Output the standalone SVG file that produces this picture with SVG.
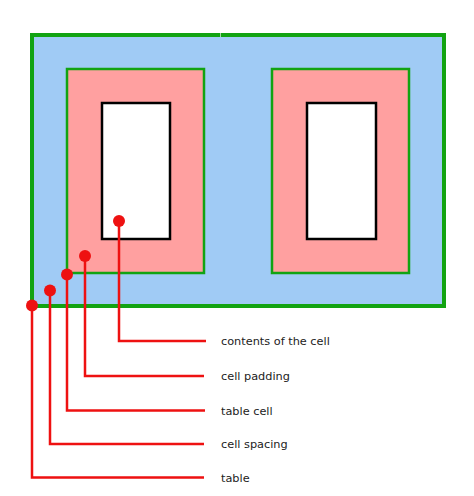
<svg xmlns="http://www.w3.org/2000/svg" width="474" height="496" viewBox="0 0 474 496">
<style>
.table{fill:#a0cbf5;stroke:#12a312;stroke-width:4}
.cell{fill:#ffa0a0;stroke:#12a312;stroke-width:2.5}
.content{fill:#ffffff;stroke:#000000;stroke-width:2.5}
.lead{fill:none;stroke:#ee1111;stroke-width:2.5}
.dot{fill:#ee1111}
.label{font-family:"DejaVu Sans",Verdana,sans-serif;font-size:11.3px;fill:#222222}
</style>
<rect width="474" height="496" fill="#ffffff"/>
<g id="table">
<rect class="table" x="32" y="35" width="412" height="271"/>
<line x1="220.5" y1="33" x2="220.5" y2="37" stroke="#a0d8a0" stroke-width="1"/>
</g>
<g id="cell1">
<rect class="cell" x="67" y="69" width="137" height="204"/>
</g>
<g id="cell2">
<rect class="cell" x="272" y="69" width="137" height="204"/>
</g>
<g id="content1">
<rect class="content" x="102" y="103" width="68" height="136"/>
</g>
<g id="content2">
<rect class="content" x="307" y="103" width="69" height="136"/>
</g>
<g id="connectors">
<polyline class="lead" points="119,221 119,341 206,341"/>
<polyline class="lead" points="85,256 85,376 204,376"/>
<polyline class="lead" points="67,274.5 67,410.5 205,410.5"/>
<polyline class="lead" points="50,290.5 50,444 204,444"/>
<polyline class="lead" points="32,305.5 32,477.5 204,477.5"/>
<circle class="dot" cx="119" cy="221" r="6"/>
<circle class="dot" cx="85" cy="256" r="6"/>
<circle class="dot" cx="67" cy="274.5" r="6"/>
<circle class="dot" cx="50" cy="290.5" r="6"/>
<circle class="dot" cx="32" cy="305.5" r="6"/>
</g>
<g id="labels">
<text class="label" x="221" y="345">contents of the cell</text>
<text class="label" x="221" y="380">cell padding</text>
<text class="label" x="221" y="414.5">table cell</text>
<text class="label" x="221" y="448">cell spacing</text>
<text class="label" x="221" y="481.5">table</text>
</g>
</svg>
